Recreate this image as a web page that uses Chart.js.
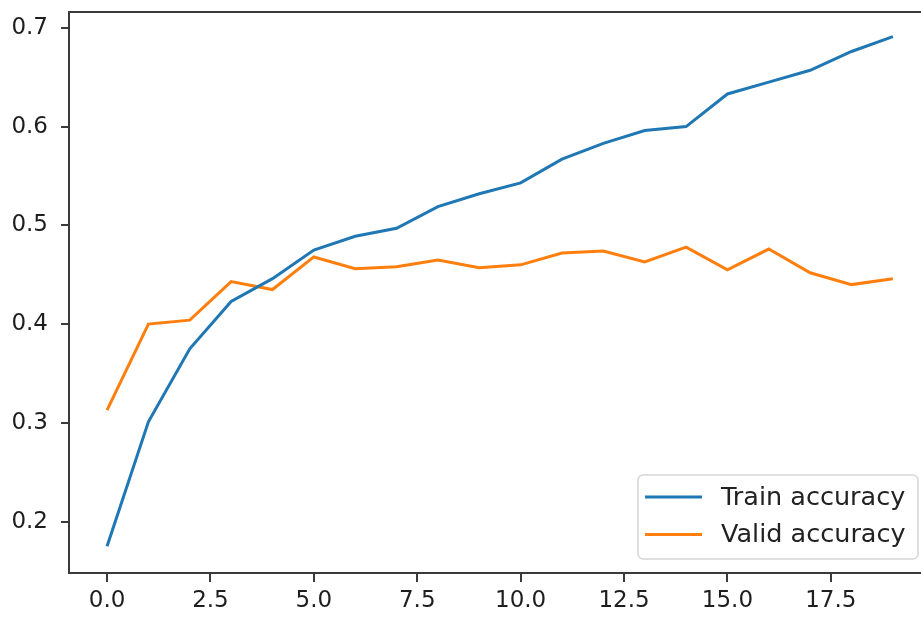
<!DOCTYPE html>
<html>
<head>
<meta charset="utf-8">
<script src="https://cdn.jsdelivr.net/npm/chart.js@4/dist/chart.umd.min.js"></script>
<style>
  html, body { margin: 0; padding: 0; background: #fff; overflow: hidden; }
  #chart { display: block; }
</style>
</head>
<body>
<canvas id="chart" width="921" height="617"></canvas>
<script>
const epochs = [0, 1, 2, 3, 4, 5, 6, 7, 8, 9, 10, 11, 12, 13, 14, 15, 16, 17, 18, 19];
const trainAcc = [0.175, 0.301, 0.375, 0.423, 0.446, 0.475, 0.489, 0.497, 0.519, 0.532, 0.543, 0.567, 0.583, 0.596, 0.600, 0.633, 0.645, 0.657, 0.676, 0.691];
const validAcc = [0.313, 0.400, 0.404, 0.443, 0.435, 0.468, 0.456, 0.458, 0.465, 0.457, 0.460, 0.472, 0.474, 0.463, 0.478, 0.455, 0.476, 0.452, 0.440, 0.446];
const xTicks = [0, 2.5, 5, 7.5, 10, 12.5, 15, 17.5];
const yTicks = [0.2, 0.3, 0.4, 0.5, 0.6, 0.7];

const FONT = 'DejaVu Sans';
const AXIS = '#3a3a3a';

// frame on top + legend box inside the axes, matplotlib style
const frame = {
  id: 'frame',
  afterDraw(chart) {
    const { ctx, chartArea: { left, top, right } } = chart;
    ctx.save();
    ctx.strokeStyle = AXIS;
    ctx.lineWidth = 2;
    ctx.beginPath();
    ctx.moveTo(left - 1, top);
    ctx.lineTo(right + 2, top);
    ctx.stroke();

    // legend
    const bx = 638, by = 475, bw = 280, bh = 84;
    ctx.fillStyle = 'rgba(255,255,255,0.8)';
    ctx.strokeStyle = '#d6d6d6';
    ctx.lineWidth = 1.5;
    ctx.beginPath();
    ctx.roundRect(bx, by, bw, bh, 5);
    ctx.fill();
    ctx.stroke();

    ctx.font = '25.5px "' + FONT + '"';
    ctx.textBaseline = 'middle';
    ctx.textAlign = 'left';
    chart.data.datasets.forEach((ds, i) => {
      const y = 497 + i * 37.5;
      ctx.strokeStyle = ds.borderColor;
      ctx.lineWidth = 3;
      ctx.beginPath();
      ctx.moveTo(645, y);
      ctx.lineTo(702, y);
      ctx.stroke();
      ctx.fillStyle = '#222';
      ctx.fillText(ds.label, 721, y + 1);
    });
    ctx.restore();
  }
};

new Chart(document.getElementById('chart'), {
  type: 'line',
  data: {
    datasets: [
      {
        label: 'Train accuracy',
        data: epochs.map((e, i) => ({ x: e, y: trainAcc[i] })),
        borderColor: '#1f77b4',
        borderWidth: 3,
        pointRadius: 0,
        tension: 0
      },
      {
        label: 'Valid accuracy',
        data: epochs.map((e, i) => ({ x: e, y: validAcc[i] })),
        borderColor: '#ff7f0e',
        borderWidth: 3,
        pointRadius: 0,
        tension: 0
      }
    ]
  },
  options: {
    responsive: false,
    animation: false,
    devicePixelRatio: 1,
    layout: { padding: { top: 12, right: 0, left: 0, bottom: 0 } },
    plugins: {
      legend: { display: false },
      tooltip: { enabled: false }
    },
    scales: {
      x: {
        type: 'linear',
        min: -0.92,
        max: 19.68,
        afterBuildTicks: scale => { scale.ticks = xTicks.map(v => ({ value: v })); },
        afterFit: scale => {
          scale.height = 44;
          scale.paddingLeft = 0;
          scale.paddingRight = 0;
        },
        grid: { drawOnChartArea: false, drawTicks: true, tickLength: 9, color: AXIS, lineWidth: 2 },
        border: { display: true, color: AXIS, width: 2 },
        ticks: {
          padding: 5,
          color: '#1e1e1e',
          font: { family: FONT, size: 23 },
          maxRotation: 0,
          autoSkip: false,
          callback: v => v.toFixed(1)
        }
      },
      y: {
        min: 0.148,
        max: 0.716,
        afterBuildTicks: scale => { scale.ticks = yTicks.map(v => ({ value: v })); },
        afterFit: scale => {
          scale.width = 69;
          scale.paddingTop = 0;
          scale.paddingBottom = 0;
        },
        grid: { drawOnChartArea: false, drawTicks: true, tickLength: 8, color: AXIS, lineWidth: 2 },
        border: { display: true, color: AXIS, width: 2 },
        ticks: {
          padding: 13,
          color: '#1e1e1e',
          font: { family: FONT, size: 23 },
          autoSkip: false,
          callback: v => v.toFixed(1)
        }
      }
    }
  },
  plugins: [frame]
});
</script>
</body>
</html>
